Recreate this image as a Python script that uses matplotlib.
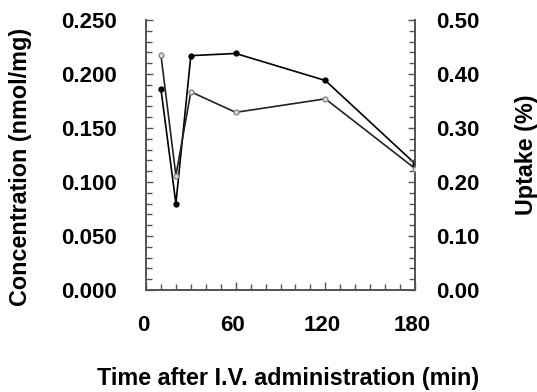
import matplotlib
matplotlib.use("Agg")
import matplotlib.pyplot as plt
from matplotlib.ticker import MultipleLocator, FormatStrFormatter
from matplotlib.transforms import ScaledTranslation

time_min = [10, 20, 30, 60, 120, 180]
concentration = [0.186, 0.080, 0.217, 0.219, 0.194, 0.117]
uptake = [0.435, 0.212, 0.367, 0.329, 0.354, 0.225]

x_ticks = [0, 60, 120, 180]
left_ticks = [0.000, 0.050, 0.100, 0.150, 0.200, 0.250]
right_ticks = [0.00, 0.10, 0.20, 0.30, 0.40, 0.50]

plt.rcParams['font.family'] = ['Liberation Sans', 'DejaVu Sans']
plt.rcParams['font.weight'] = 'bold'
FS_T = 16
FS_L = 16.8

fig = plt.figure(figsize=(5.37, 3.92), dpi=100)
ax = fig.add_axes([146/537, 1 - 290/392, (415 - 146)/537, (290 - 20)/392])
ax2 = ax.twinx()

spine_c = '#555555'
for a in (ax, ax2):
    a.spines['top'].set_visible(False)
    for s in a.spines.values():
        s.set_color(spine_c)
        s.set_linewidth(1.3)

ax.plot(time_min, concentration, color='black', lw=1.2, marker='o', ms=3.5,
        mfc='black', mec='black', zorder=3)
ax2.plot(time_min, uptake, color='#222222', lw=1.2, marker='o', ms=3.5,
         mfc='#dddddd', mec='#888888', zorder=3)

ax.set_xlim(0, 180)
ax.set_ylim(0, 0.25)
ax2.set_ylim(0, 0.5)

ax.set_xticks(x_ticks)
ax.xaxis.set_minor_locator(MultipleLocator(10))
ax.set_yticks(left_ticks)
ax.yaxis.set_minor_locator(MultipleLocator(0.01))
ax.yaxis.set_major_formatter(FormatStrFormatter('%.3f'))
ax2.set_yticks(right_ticks)
ax2.yaxis.set_minor_locator(MultipleLocator(0.02))
ax2.yaxis.set_major_formatter(FormatStrFormatter('%.2f'))

ax.tick_params(axis='x', which='major', direction='in', length=6, width=1, color=spine_c,
               pad=18, labelsize=FS_T)
ax.tick_params(axis='x', which='minor', direction='in', length=4, width=1, color=spine_c)
ax.tick_params(axis='y', which='major', direction='in', length=5, width=1, color=spine_c,
               pad=21, labelsize=FS_T)
ax.tick_params(axis='y', which='minor', direction='in', length=4, width=1, color=spine_c)
ax2.tick_params(axis='y', which='major', direction='in', length=5, width=1, color=spine_c,
                pad=15, labelsize=FS_T)
ax2.tick_params(axis='y', which='minor', direction='in', length=4, width=1, color=spine_c)

shift = ScaledTranslation(-3/100, 0, fig.dpi_scale_trans)
for lab in ax.get_xticklabels():
    lab.set_transform(lab.get_transform() + shift)

fig.text(21/537, 1 - 167/392, 'Concentration (nmol/mg)', rotation=90, ha='center', va='center',
         fontsize=FS_L, fontweight='bold')
fig.text(526/537, 1 - 155/392, 'Uptake (%)', rotation=90, ha='center', va='center',
         fontsize=FS_L, fontweight='bold')
fig.text(288/537, 1 - 379/392, 'Time after I.V. administration (min)', ha='center', va='center',
         fontsize=FS_L, fontweight='bold')

fig.savefig('out.png', dpi=100)
